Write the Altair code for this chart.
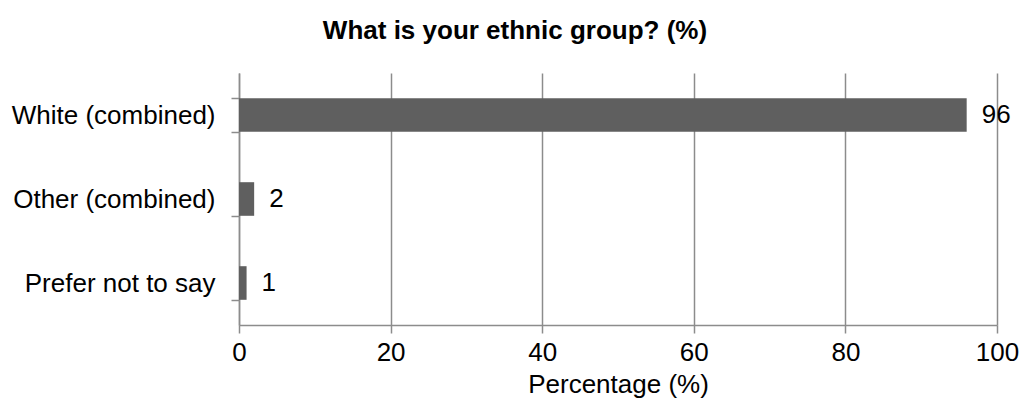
import altair as alt
import pandas as pd

categories = ["White (combined)", "Other (combined)", "Prefer not to say"]
values = [96, 2, 1]

df = pd.DataFrame({"category": categories, "value": values})

FONT = "Liberation Sans"
GRID = "#8c8c8c"
FS = 26

base = alt.Chart(df).encode(
    y=alt.Y("category:N", sort=categories,
            scale=alt.Scale(paddingInner=0.6, paddingOuter=0.3),
            axis=alt.Axis(title=None, tickBand="extent", labelFontSize=FS,
                          labelFont=FONT, labelColor="#000000", labelPadding=16,
                          labelLimit=400,
                          tickSize=8, tickColor=GRID, domainColor=GRID,
                          tickWidth=1.5, domainWidth=1.5, grid=False)),
)

bars = base.mark_bar(color="#5f5f5f").encode(
    x=alt.X("value:Q", scale=alt.Scale(domain=[0, 100]),
            axis=alt.Axis(title="Percentage (%)", values=[0, 20, 40, 60, 80, 100],
                          labelFontSize=FS, labelFont=FONT, labelColor="#000000",
                          labelFlush=False, labelOverlap=False,
                          titleFontSize=FS, titleFont=FONT, titleFontWeight="normal",
                          titleColor="#000000", titlePadding=6, labelPadding=6,
                          grid=True, gridColor=GRID, gridWidth=1.5,
                          tickColor=GRID, tickSize=8, tickWidth=1.5,
                          domainColor=GRID, domainWidth=1.5)),
)

labels = base.mark_text(align="left", baseline="middle", dx=15, fontSize=FS,
                        font=FONT, color="#000000").encode(
    x=alt.X("value:Q"),
    text=alt.Text("value:Q"),
)

chart = (bars + labels).properties(
    width=758, height=252,
    title=alt.TitleParams("What is your ethnic group? (%)", fontSize=26,
                          font=FONT, fontWeight="bold", color="#000000",
                          anchor="middle", frame="bounds", offset=16),
    autosize=alt.AutoSizeParams(type="none"),
    padding={"left": 231, "top": 65, "right": 22, "bottom": 77},
).configure_view(stroke=None)

chart.save("out.html", embed_options={"renderer": "svg", "actions": False})
